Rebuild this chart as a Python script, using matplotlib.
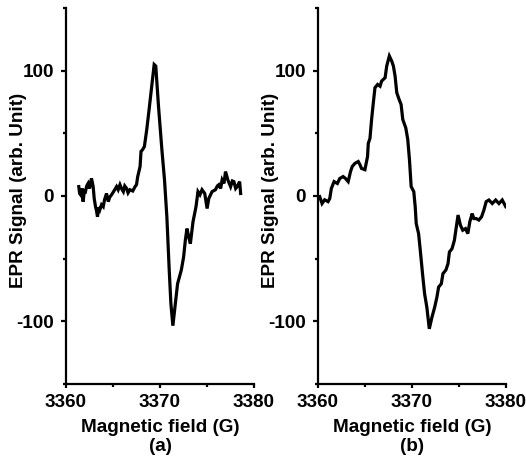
import matplotlib
matplotlib.use("Agg")
import matplotlib.pyplot as plt
from matplotlib.ticker import MultipleLocator

plt.rcParams['font.family'] = ['Liberation Sans', 'DejaVu Sans']
plt.rcParams['font.weight'] = 'bold'
plt.rcParams['axes.unicode_minus'] = False

# Panel (a) trace
field_a = [3361.36, 3361.45, 3361.57, 3361.70, 3361.82, 3361.95, 3362.07, 3362.20, 3362.35,
           3362.50, 3362.71, 3362.80, 3362.89, 3363.00, 3363.14, 3363.25, 3363.35, 3363.48,
           3363.60, 3363.78, 3363.96, 3364.10, 3364.31, 3364.40, 3364.50, 3364.65, 3364.85,
           3365.10, 3365.38, 3365.55, 3365.74, 3365.90, 3366.10, 3366.25, 3366.45, 3366.60,
           3366.80, 3367.10, 3367.35, 3367.50, 3367.63, 3367.88, 3367.98, 3368.15, 3368.34,
           3368.59, 3368.84, 3369.12, 3369.38, 3369.55, 3369.84, 3370.20, 3370.48, 3370.73,
           3370.98, 3371.16, 3371.37, 3371.63, 3371.87, 3372.27, 3372.51, 3372.70, 3372.87,
           3373.05, 3373.23, 3373.51, 3373.83, 3374.04, 3374.25, 3374.47, 3374.76, 3375.01,
           3375.19, 3375.54, 3375.90, 3376.10, 3376.26, 3376.45, 3376.61, 3376.80, 3376.97,
           3377.22, 3377.51, 3377.70, 3377.86, 3378.05, 3378.21, 3378.47, 3378.58]
signal_a = [7.5, 2.0, 0.8, 6.0, -4.5, 4.0, 3.5, 8.0, 10.0,
            6.0, 14.0, 11.0, 7.5, -2.0, -8.5, -12.0, -16.6, -9.0,
            -11.0, -7.0, -8.5, -3.0, 2.0, -1.0, -4.5, -1.0, 1.0,
            4.0, 7.5, 5.0, 9.0, 6.0, 3.5, 8.0, 6.0, 2.5,
            5.0, 4.0, 7.5, 9.0, 15.5, 23.5, 35.5, 37.0, 39.5,
            53.0, 69.0, 87.6, 104.9, 103.7, 71.6, 37.0, 12.8, -16.6,
            -59.0, -86.0, -103.5, -86.0, -70.0, -59.0, -48.7, -35.0, -26.0,
            -32.6, -38.0, -20.6, -8.5, 3.5, 1.0, 5.0, 2.0, -10.0,
            -2.0, 3.5, 5.0, 8.0, 9.0, 6.0, 12.8, 10.0, 19.5,
            12.8, 7.5, 12.0, 11.5, 6.0, 7.5, 11.5, 2.0]

# Panel (b) trace
field_b = [3360.18, 3360.43, 3360.71, 3361.07, 3361.25, 3361.42, 3361.71, 3362.06, 3362.32,
           3362.67, 3362.92, 3363.21, 3363.46, 3363.64, 3363.92, 3364.28, 3364.46, 3364.63,
           3364.99, 3365.27, 3365.35, 3365.53, 3365.70, 3365.88, 3366.06, 3366.34, 3366.60,
           3366.77, 3367.14, 3367.31, 3367.59, 3367.84, 3368.02, 3368.20, 3368.38, 3368.63,
           3368.84, 3369.02, 3369.34, 3369.55, 3369.73, 3369.91, 3370.19, 3370.34, 3370.45,
           3370.70, 3370.88, 3371.12, 3371.34, 3371.58, 3371.84, 3372.12, 3372.41, 3372.65,
           3372.83, 3373.12, 3373.29, 3373.61, 3373.83, 3373.98, 3374.26, 3374.51, 3374.69,
           3374.90, 3375.15, 3375.40, 3375.69, 3375.94, 3376.15, 3376.40, 3376.58, 3376.83,
           3377.11, 3377.40, 3377.65, 3377.89, 3378.18, 3378.54, 3378.90, 3379.25, 3379.60,
           3379.97]
signal_b = [-0.5, -6.0, -3.0, -4.5, -2.0, 6.0, 11.5, 10.0, 14.0,
            15.5, 14.0, 11.5, 19.5, 23.5, 26.0, 27.5, 25.0, 22.0,
            21.0, 31.5, 42.0, 46.0, 61.0, 74.0, 86.4, 89.0, 87.6,
            91.7, 94.4, 103.7, 111.7, 107.7, 103.7, 95.7, 82.4, 77.0,
            73.0, 61.0, 54.3, 45.0, 29.0, 7.5, 3.5, -8.5, -22.0,
            -30.0, -43.3, -62.0, -78.0, -88.8, -106.0, -96.8, -88.8, -80.7,
            -72.7, -70.0, -62.0, -59.0, -54.0, -44.7, -42.0, -35.3, -26.0,
            -15.2, -23.3, -27.3, -26.0, -30.0, -20.6, -14.0, -18.0, -18.0,
            -19.2, -16.6, -11.2, -4.5, -3.2, -6.0, -3.2, -6.0, -3.2,
            -8.5]

x_major = [3360, 3370, 3380]
y_major = [-100, 0, 100]
xlabel_a = "Magnetic field (G)\n(a)"
xlabel_b = "Magnetic field (G)\n(b)"
ylabel = "EPR Signal (arb. Unit)"

W, H = 526, 457
fig = plt.figure(figsize=(W / 100, H / 100), dpi=100)

fs = 13.6
panels = [
    (66, field_a, signal_a, xlabel_a),
    (318, field_b, signal_b, xlabel_b),
]
for x0, fx, sy, xl in panels:
    ax = fig.add_axes([x0 / W, 1 - 384 / H, 188 / W, 376 / H])
    ax.plot(fx, sy, color='black', lw=2.3, solid_joinstyle='miter')
    ax.set_xlim(3360, 3380)
    ax.set_ylim(-150, 150)
    ax.set_xticks(x_major)
    ax.set_yticks(y_major)
    ax.xaxis.set_minor_locator(MultipleLocator(5))
    ax.yaxis.set_minor_locator(MultipleLocator(50))
    for s in ['top', 'right']:
        ax.spines[s].set_visible(False)
    for s in ['left', 'bottom']:
        ax.spines[s].set_linewidth(1.6)
    ax.tick_params(axis='x', which='major', direction='out', length=3, width=1.6,
                   labelsize=fs, pad=4)
    ax.tick_params(axis='y', which='major', direction='out', length=3.5, width=1.6,
                   labelsize=fs, pad=5)
    ax.tick_params(axis='both', which='minor', direction='out', length=2.5, width=1.6)
    for lab in ax.get_xticklabels() + ax.get_yticklabels():
        lab.set_fontweight('bold')
    ax.set_xlabel(xl, fontsize=fs, fontweight='bold', labelpad=6, linespacing=1.12)
    ax.set_ylabel(ylabel, fontsize=fs, fontweight='bold')
    ax.yaxis.set_label_coords(-0.205, 0.515)

fig.savefig("out.png", dpi=100)
